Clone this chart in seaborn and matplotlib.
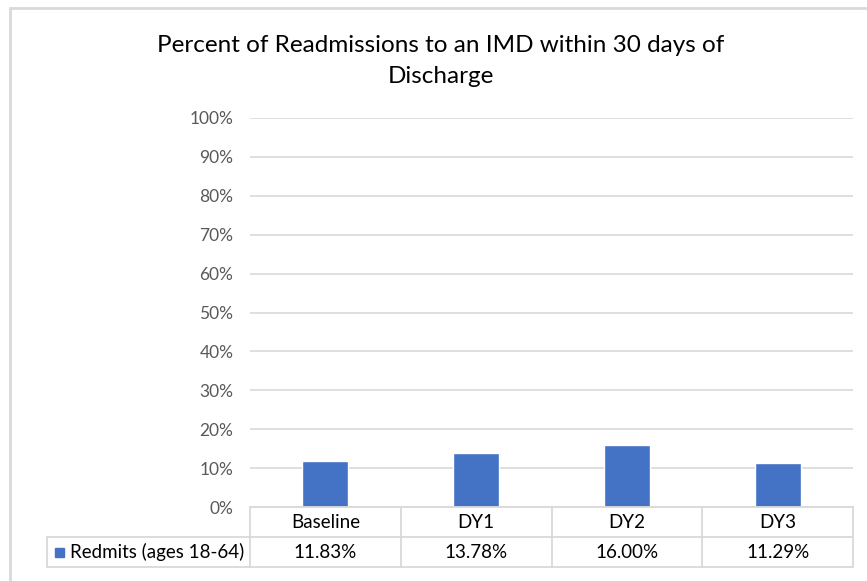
import numpy as np
import pandas as pd
import matplotlib
matplotlib.use("Agg")
import matplotlib.pyplot as plt
from matplotlib.patches import Rectangle
import seaborn as sns

# data
periods = ["Baseline", "DY1", "DY2", "DY3"]
readmit_pct = [11.83, 13.78, 16.00, 11.29]
series_name = "Redmits (ages 18-64)"
title = "Percent of Readmissions to an IMD within 30 days of\nDischarge"

BAR_COLOR = "#4472C4"
TEXT_COLOR = "#595959"
GRID_COLOR = "#d9d9d9"
FONT = ["Lato", "DejaVu Sans"]

sns.set_theme(style="white")
plt.rcParams["font.family"] = FONT

W, H = 867, 581
fig = plt.figure(figsize=(W / 100, H / 100), dpi=100)

def fx(px):
    return px / W

def fy(py):
    return 1 - py / H

# plot area in pixel terms
left, right, top, bottom = 250, 853, 118, 507
ax = fig.add_axes([fx(left), fy(bottom), fx(right - left), (bottom - top) / H])

df = pd.DataFrame({"period": periods, "value": np.array(readmit_pct) / 100})
sns.barplot(data=df, x="period", y="value", color=BAR_COLOR, width=0.305,
            saturation=1, ax=ax, zorder=3)

ax.set_ylim(0, 1)
ax.set_xlim(-0.5, len(periods) - 0.5)
ticks = np.arange(0, 1.01, 0.1)
ax.set_yticks(ticks)
ax.set_yticklabels([f"{int(round(t * 100))}%" for t in ticks],
                   color=TEXT_COLOR, fontsize=12.5)
ax.tick_params(axis="y", length=0, pad=12)
ax.set_xticks([])
ax.set_xlabel("")
ax.set_ylabel("")
ax.yaxis.grid(True, color=GRID_COLOR, linewidth=1.2, zorder=0)
for s in ax.spines.values():
    s.set_visible(False)

# title
fig.text(fx(441), fy(61), title, ha="center", va="center", fontsize=17.5,
         color="#000000", linespacing=1.55)

# outer chart border
fig.add_artist(plt.Line2D([fx(10), fx(10)], [fy(8), fy(H + 5)], color=GRID_COLOR, lw=2))
fig.add_artist(plt.Line2D([fx(10), fx(W + 5)], [fy(8), fy(8)], color=GRID_COLOR, lw=2))

# data table under the axis
row_h = 30
y0, y1, y2 = bottom, bottom + row_h, bottom + 2 * row_h
tbl_left = 47
lc = GRID_COLOR
lw = 1.3
fig.add_artist(plt.Line2D([fx(left), fx(right)], [fy(y0), fy(y0)], color=lc, lw=lw))
fig.add_artist(plt.Line2D([fx(tbl_left), fx(right)], [fy(y1), fy(y1)], color=lc, lw=lw))
fig.add_artist(plt.Line2D([fx(tbl_left), fx(right)], [fy(y2), fy(y2)], color=lc, lw=lw))
fig.add_artist(plt.Line2D([fx(tbl_left), fx(tbl_left)], [fy(y1), fy(y2)], color=lc, lw=lw))

col_w = (right - left) / len(periods)
for i in range(len(periods) + 1):
    xp = left + i * col_w
    fig.add_artist(plt.Line2D([fx(xp), fx(xp)], [fy(y0), fy(y2)], color=lc, lw=lw))

for i, (p, v) in enumerate(zip(periods, readmit_pct)):
    xc = left + (i + 0.5) * col_w
    fig.text(fx(xc), fy((y0 + y1) / 2), p, ha="center", va="center",
             fontsize=13.5, color="#000000")
    fig.text(fx(xc), fy((y1 + y2) / 2), f"{v:.2f}%", ha="center", va="center",
             fontsize=13.5, color="#000000")

# legend key in the table
fig.add_artist(Rectangle((fx(55), fy((y1 + y2) / 2 + 5)), fx(9), 9 / H,
                         color=BAR_COLOR))
fig.text(fx(70), fy((y1 + y2) / 2), series_name, ha="left", va="center",
         fontsize=13.5, color="#000000")

fig.savefig("out.png", dpi=100)
